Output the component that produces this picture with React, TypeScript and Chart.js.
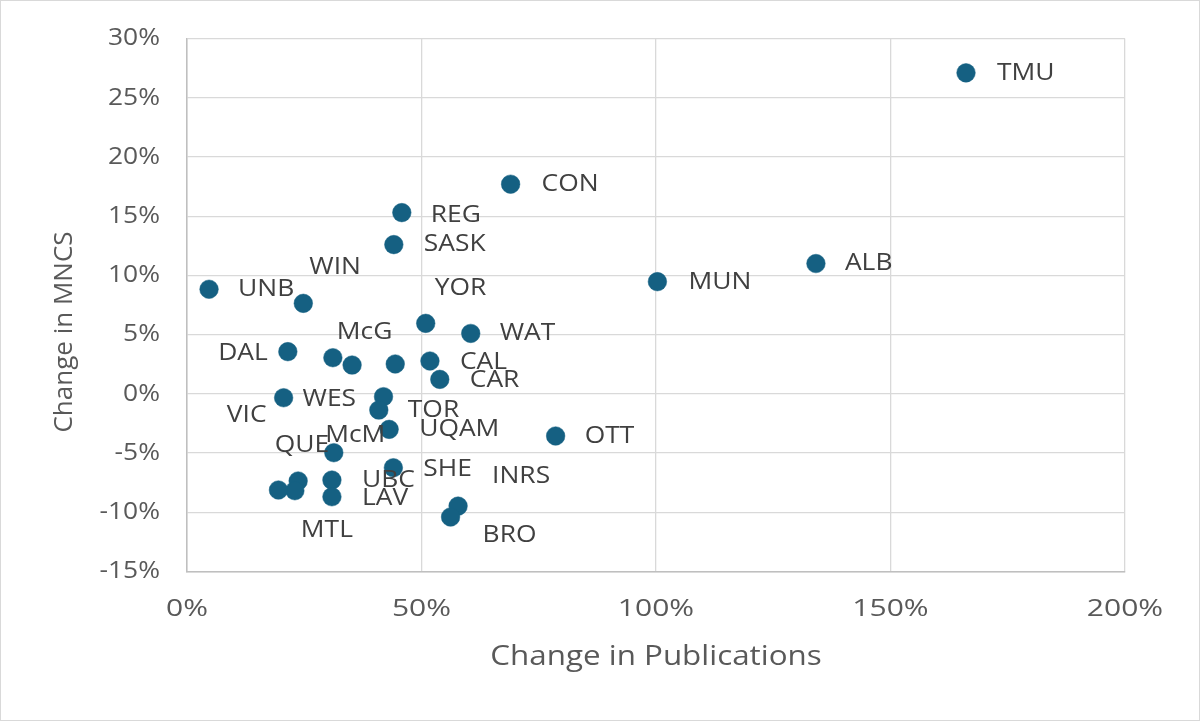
import { useEffect, useRef } from "react";
import { Chart, registerables } from "chart.js";

Chart.register(...registerables);

// ---- Data (percent changes) ----
const universities = [
  "TMU", "CON", "REG", "SASK", "ALB", "MUN", "UNB", "WIN", "YOR", "WAT",
  "DAL", "McG", "", "", "CAL", "CAR", "VIC", "WES", "TOR", "UQAM",
  "OTT", "QUE", "SHE", "UBC", "LAV", "McM", "MTL", "", "INRS", "BRO",
];
const pubChange = [
  166.1, 69.0, 45.8, 44.1, 134.1, 100.3, 4.7, 24.8, 50.9, 60.5,
  21.5, 31.1, 35.2, 44.4, 51.8, 53.9, 20.6, 41.9, 40.9, 43.1,
  78.6, 31.3, 44.0, 30.9, 30.9, 23.7, 23.0, 19.5, 57.8, 56.2,
];
const mncsChange = [
  27.1, 17.7, 15.3, 12.6, 11.0, 9.47, 8.83, 7.64, 5.95, 5.1,
  3.56, 3.05, 2.43, 2.52, 2.77, 1.22, -0.33, -0.24, -1.37, -3.0,
  -3.56, -4.97, -6.24, -7.28, -8.69, -7.36, -8.18, -8.12, -9.48, -10.4,
];
const xTickValues = [0, 50, 100, 150, 200];
const yTickValues = [-15, -10, -5, 0, 5, 10, 15, 20, 25, 30];
const xTitle = "Change in Publications";
const yTitle = "Change in MNCS";

// label placement (pixel offsets from the marker, text alignment)
const labelOffsets: [number, number, CanvasTextAlign][] = [
  [31, 0, "left"], [31, 0, "left"], [29, 3, "left"], [30, 0, "left"], [29, 0, "left"],
  [31, 0, "left"], [29, 0, "left"], [6, -36, "left"], [9, -35, "left"], [29, 0, "left"],
  [-20, 1, "right"], [4, -26, "left"], [0, 0, "left"], [0, 0, "left"], [30, 1, "left"],
  [30, 1, "left"], [-17, 17, "right"], [-81, 2, "left"], [29, 0, "left"], [30, 0, "left"],
  [29, 0, "left"], [-59, -8, "left"], [30, 1, "left"], [30, 0, "left"], [30, 1, "left"],
  [27, -46, "left"], [6, 39, "left"], [0, 0, "left"], [34, -30, "left"], [32, 18, "left"],
];

const FONT = "'Open Sans', 'DejaVu Sans', sans-serif";
const AXIS_COLOR = "#595959";
const LABEL_COLOR = "#404040";
const MARKER = "#156082";

function drawText(
  ctx: CanvasRenderingContext2D,
  text: string,
  x: number,
  y: number,
  align: CanvasTextAlign,
  sx: number
) {
  ctx.save();
  ctx.translate(x, y);
  ctx.scale(sx, 1);
  ctx.textAlign = align;
  ctx.fillText(text, 0, 0);
  ctx.restore();
}

const labelPlugin = {
  id: "pointLabels",
  afterDatasetsDraw(chart: any) {
    const ctx = chart.ctx;
    const meta = chart.getDatasetMeta(0);
    ctx.save();
    ctx.font = `24px ${FONT}`;
    ctx.fillStyle = LABEL_COLOR;
    ctx.textBaseline = "middle";
    meta.data.forEach((el: any, i: number) => {
      const text = universities[i];
      if (!text) return;
      const [dx, dy, align] = labelOffsets[i];
      drawText(ctx, text, el.x + dx, el.y + dy, align, 1.1);
    });
    ctx.restore();
  },
};

const axisTextPlugin = {
  id: "axisText",
  afterDraw(chart: any) {
    const ctx = chart.ctx;
    const area = chart.chartArea;
    const xs = chart.scales.x;
    const ys = chart.scales.y;
    ctx.save();
    ctx.fillStyle = AXIS_COLOR;
    ctx.textBaseline = "middle";
    ctx.font = `24px ${FONT}`;
    yTickValues.forEach((v) => {
      drawText(ctx, `${v}%`, 159, ys.getPixelForValue(v), "right", 1.1);
    });
    xTickValues.forEach((v) => {
      drawText(ctx, `${v}%`, xs.getPixelForValue(v), 608, "center", 1.25);
    });
    ctx.font = `28px ${FONT}`;
    drawText(ctx, xTitle, (area.left + area.right) / 2, 656, "center", 1.12);
    ctx.translate(64, 331);
    ctx.rotate(-Math.PI / 2);
    ctx.font = `26px ${FONT}`;
    ctx.textAlign = "center";
    ctx.fillText(yTitle, 0, 0);
    ctx.restore();
  },
};

export default function App() {
  const canvasRef = useRef<HTMLCanvasElement | null>(null);

  useEffect(() => {
    if (!canvasRef.current) return;
    const chart = new Chart(canvasRef.current, {
      type: "scatter",
      data: {
        datasets: [
          {
            label: "Universities",
            data: pubChange.map((x, i) => ({ x, y: mncsChange[i] })),
            backgroundColor: MARKER,
            borderColor: MARKER,
            borderWidth: 0.5,
            pointRadius: 9.3,
            pointHoverRadius: 9.3,
          },
        ],
      },
      options: {
        animation: false,
        responsive: false,
        maintainAspectRatio: false,
        events: [],
        layout: { padding: { top: 37.5, right: 74, bottom: 0, left: 0 } },
        plugins: {
          legend: { display: false },
          tooltip: { enabled: false },
        },
        scales: {
          x: {
            type: "linear",
            min: 0,
            max: 200,
            afterBuildTicks: (scale: any) => {
              scale.ticks = xTickValues.map((v) => ({ value: v }));
            },
            afterFit: (scale: any) => {
              scale.height = 148.5;
            },
            ticks: { display: false },
            grid: { color: "#d9d9d9", lineWidth: 1.3, drawTicks: false },
            border: { color: "#bfbfbf", width: 1.5 },
          },
          y: {
            type: "linear",
            min: -15,
            max: 30,
            afterBuildTicks: (scale: any) => {
              scale.ticks = yTickValues.map((v) => ({ value: v }));
            },
            afterFit: (scale: any) => {
              scale.width = 186;
            },
            ticks: { display: false },
            grid: { color: "#d9d9d9", lineWidth: 1.3, drawTicks: false },
            border: { color: "#bfbfbf", width: 1.5 },
          },
        },
      },
      plugins: [labelPlugin, axisTextPlugin],
    });
    return () => chart.destroy();
  }, []);

  return (
    <div
      style={{
        position: "fixed",
        left: 0,
        top: 0,
        width: 1200,
        height: 721,
        boxSizing: "border-box",
        border: "1px solid #d9d9d9",
        background: "#ffffff",
      }}
    >
      <canvas ref={canvasRef} width={1198} height={719} style={{ display: "block" }} />
    </div>
  );
}
